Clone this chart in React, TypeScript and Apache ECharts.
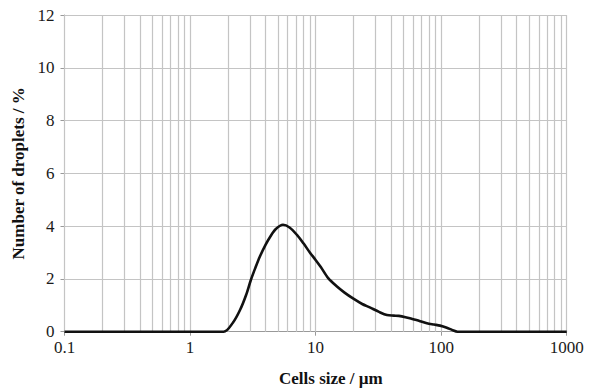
import React, { useEffect, useRef } from "react";
import * as echarts from "echarts";

const sizes = [0.1, 1.85, 2.2, 2.5, 2.8, 3.05, 3.3, 3.6, 4.0, 4.35, 4.8, 5.5, 6.2, 7.1, 8.0, 9.0, 10, 11, 12.6, 14.8, 17, 20, 23.5, 27, 32, 37, 42, 46, 52, 60, 68, 77, 88, 98, 111, 122, 135, 1000];
const droplets = [0, 0, 0.35, 0.82, 1.4, 1.96, 2.4, 2.85, 3.3, 3.6, 3.88, 4.05, 3.95, 3.67, 3.35, 3.0, 2.72, 2.45, 2.03, 1.71, 1.48, 1.25, 1.05, 0.92, 0.75, 0.63, 0.61, 0.6, 0.55, 0.47, 0.4, 0.32, 0.27, 0.23, 0.15, 0.07, 0, 0];
const xTickLabels = ["0.1", "1", "10", "100", "1000"];
const decades = [0.1, 1, 10, 100];
const mantissas = [1, 2, 3, 4, 5, 6, 7, 8, 9];

const gridXValues: number[] = [];
decades.forEach((d) => mantissas.forEach((m) => gridXValues.push(+(d * m).toPrecision(3))));
gridXValues.push(1000);

export default function App() {
  const ref = useRef<HTMLDivElement>(null);
  useEffect(() => {
    if (!ref.current) return;
    const chart = echarts.init(ref.current, undefined, { renderer: "svg" });
    const font = "Liberation Serif";
    chart.setOption({
      animation: false,
      backgroundColor: "#ffffff",
      grid: { left: 64.5, right: 26.3, top: 15, bottom: 57.3 },
      xAxis: {
        type: "log",
        logBase: 10,
        min: 0.1,
        max: 1000,
        axisLine: { show: true, lineStyle: { color: "#999", width: 1 } },
        axisTick: { show: true, length: 4, lineStyle: { color: "#999" } },
        splitLine: { show: false },
        axisLabel: {
          margin: 7,
          fontFamily: font,
          fontSize: 17,
          color: "#1a1a1a",
          formatter: (v: number) => xTickLabels[Math.round(Math.log10(v)) + 1] ?? "",
        },
      },
      yAxis: {
        type: "value",
        min: 0,
        max: 12,
        interval: 2,
        name: "Number of droplets / %",
        nameLocation: "middle",
        nameGap: 36,
        nameTextStyle: { fontFamily: font, fontSize: 17, fontWeight: "bold", color: "#111" },
        axisLine: { show: true, lineStyle: { color: "#999", width: 1 } },
        axisTick: { show: true, length: 4, lineStyle: { color: "#999" } },
        splitLine: { show: true, lineStyle: { color: "#c4c4c4", width: 1.2 } },
        axisLabel: { margin: 10, fontFamily: font, fontSize: 17, color: "#1a1a1a" },
      },
      graphic: [
        {
          type: "text",
          left: 279,
          top: 370,
          style: { text: "Cells size / µm", fontFamily: font, fontSize: 17, fontWeight: "bold", fill: "#111" },
        },
      ],
      series: [
        {
          type: "line",
          data: [[0.1, 0]],
          showSymbol: false,
          lineStyle: { opacity: 0 },
          z: 1,
          silent: true,
          markLine: {
            silent: true,
            symbol: "none",
            label: { show: false },
            lineStyle: { color: "#c4c4c4", width: 1.2, type: "solid" },
            data: gridXValues.map((v) => ({ xAxis: v })),
          },
        },
        {
          type: "line",
          data: sizes.map((s, i) => [s, droplets[i]]),
          smooth: 0.3,
          showSymbol: false,
          z: 5,
          lineStyle: { color: "#111", width: 2.6 },
        },
      ],
    });
    return () => chart.dispose();
  }, []);
  return <div ref={ref} style={{ width: 593, height: 389, position: "absolute", left: 0, top: 0 }} />;
}
